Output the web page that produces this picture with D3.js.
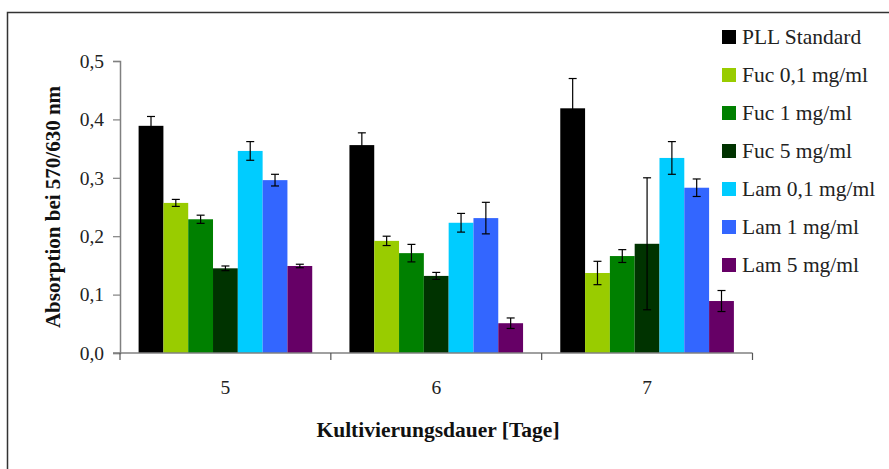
<!DOCTYPE html>
<html>
<head>
<meta charset="utf-8">
<script src="https://cdn.jsdelivr.net/npm/d3@7.9.0/dist/d3.min.js"></script>
<style>
  body { margin: 0; background: #fff; }
  svg { display: block; }
  svg text { font-family: 'Liberation Serif', 'Times New Roman', 'DejaVu Serif', serif; }
</style>
</head>
<body>
<svg id="chart" width="889" height="469"></svg>
<script>
const days = ['5', '6', '7'];
const seriesNames = ['PLL Standard', 'Fuc 0,1 mg/ml', 'Fuc 1 mg/ml', 'Fuc 5 mg/ml', 'Lam 0,1 mg/ml', 'Lam 1 mg/ml', 'Lam 5 mg/ml'];
const seriesColors = ['#000000', '#99cc00', '#008000', '#003300', '#00ccff', '#3366ff', '#660066'];

// mean absorption per series, one value per day (5, 6, 7)
const pllStandard = [0.389, 0.356, 0.419];
const fuc01 = [0.257, 0.192, 0.137];
const fuc1 = [0.229, 0.171, 0.166];
const fuc5 = [0.145, 0.132, 0.187];
const lam01 = [0.346, 0.223, 0.334];
const lam1 = [0.296, 0.231, 0.283];
const lam5 = [0.149, 0.051, 0.089];

// error bars (+/-)
const pllStandardErr = [0.016, 0.021, 0.051];
const fuc01Err = [0.006, 0.008, 0.020];
const fuc1Err = [0.007, 0.015, 0.011];
const fuc5Err = [0.004, 0.006, 0.113];
const lam01Err = [0.016, 0.016, 0.028];
const lam1Err = [0.010, 0.027, 0.015];
const lam5Err = [0.003, 0.009, 0.018];

const yTicks = [0, 0.1, 0.2, 0.3, 0.4, 0.5];

const values = [pllStandard, fuc01, fuc1, fuc5, lam01, lam1, lam5];
const errors = [pllStandardErr, fuc01Err, fuc1Err, fuc5Err, lam01Err, lam1Err, lam5Err];

const serif = "'Liberation Serif', 'Times New Roman', 'DejaVu Serif', serif";

const bars = [];
days.forEach((day, di) => {
  seriesNames.forEach((name, si) => {
    bars.push({ day, name, color: seriesColors[si], value: values[si][di], err: errors[si][di] });
  });
});

const svg = d3.select('#chart');

// outer frame
svg.append('rect')
  .attr('x', 7.5).attr('y', 12.5)
  .attr('width', 1000).attr('height', 1000)
  .attr('fill', 'none')
  .attr('stroke', '#333')
  .attr('stroke-width', 1.5);

const x0 = d3.scaleBand().domain(days).range([120, 752.5]).paddingInner(0).paddingOuter(0);
const x1 = d3.scaleBand().domain(seriesNames).range([0, x0.bandwidth()]).paddingInner(0).paddingOuter(0.75);
const y = d3.scaleLinear().domain([0, 0.5]).range([353, 61]);

const fmt = (d) => d3.format('.1f')(d).replace('.', ',');

// bars
svg.append('g')
  .selectAll('rect')
  .data(bars)
  .join('rect')
  .attr('x', (d) => x0(d.day) + x1(d.name))
  .attr('y', (d) => y(d.value))
  .attr('width', x1.bandwidth())
  .attr('height', (d) => y(0) - y(d.value))
  .attr('fill', (d) => d.color);

// error bars
const eb = svg.append('g').attr('stroke', '#000').attr('stroke-width', 1.2);
bars.forEach((d) => {
  const cx = x0(d.day) + x1(d.name) + x1.bandwidth() / 2;
  const top = y(d.value + d.err);
  const bot = y(d.value - d.err);
  eb.append('line').attr('x1', cx).attr('x2', cx).attr('y1', top).attr('y2', bot);
  eb.append('line').attr('x1', cx - 4).attr('x2', cx + 4).attr('y1', top).attr('y2', top);
  eb.append('line').attr('x1', cx - 4).attr('x2', cx + 4).attr('y1', bot).attr('y2', bot);
});

// y axis
const yAxis = svg.append('g')
  .attr('transform', 'translate(120,0)')
  .call(d3.axisLeft(y).tickValues(yTicks).tickFormat(fmt).tickSize(7).tickPadding(9))
  .attr('font-family', serif);
yAxis.select('.domain').attr('stroke', '#808080').attr('stroke-width', 1.5);
yAxis.selectAll('.tick line').attr('stroke', '#808080').attr('stroke-width', 1.2);
yAxis.selectAll('.tick text')
  .attr('font-family', serif)
  .attr('font-size', 19.5)
  .attr('fill', '#222');

// x axis: ticks at category boundaries, labels in the middle
const xAxis = svg.append('g').attr('transform', 'translate(0,353)');
xAxis.append('line')
  .attr('x1', 113).attr('x2', x0.range()[1])
  .attr('stroke', '#808080').attr('stroke-width', 1.5);
const bounds = days.map((d) => x0(d)).concat([x0.range()[1]]);
xAxis.selectAll('.xtick')
  .data(bounds)
  .join('line')
  .attr('class', 'xtick')
  .attr('x1', (d) => d).attr('x2', (d) => d)
  .attr('y1', 0).attr('y2', 7)
  .attr('stroke', '#555').attr('stroke-width', 1.2);
xAxis.selectAll('.xlabel')
  .data(days)
  .join('text')
  .attr('class', 'xlabel')
  .attr('x', (d) => x0(d) + x0.bandwidth() / 2)
  .attr('y', 41)
  .attr('text-anchor', 'middle')
  .attr('font-family', serif)
  .attr('font-size', 19.5)
  .attr('fill', '#222')
  .text((d) => d);

// axis titles
svg.append('text')
  .attr('x', 438).attr('y', 437)
  .attr('text-anchor', 'middle')
  .attr('font-family', serif)
  .attr('font-size', 21.5)
  .attr('font-weight', 'bold')
  .attr('fill', '#111')
  .text('Kultivierungsdauer [Tage]');

svg.append('text')
  .attr('transform', 'translate(60,207) rotate(-90)')
  .attr('text-anchor', 'middle')
  .attr('font-family', serif)
  .attr('font-size', 21)
  .attr('font-weight', 'bold')
  .attr('fill', '#111')
  .text('Absorption bei 570/630 nm');

// legend
const legend = svg.append('g').attr('transform', 'translate(722,30)');
const item = legend.selectAll('g')
  .data(seriesNames)
  .join('g')
  .attr('transform', (d, i) => `translate(0,${i * 38})`);
item.append('rect')
  .attr('width', 14).attr('height', 14)
  .attr('fill', (d, i) => seriesColors[i]);
item.append('text')
  .attr('x', 20).attr('y', 14)
  .attr('font-family', serif)
  .attr('font-size', 21.5)
  .attr('fill', '#222')
  .text((d) => d);
</script>
</body>
</html>
